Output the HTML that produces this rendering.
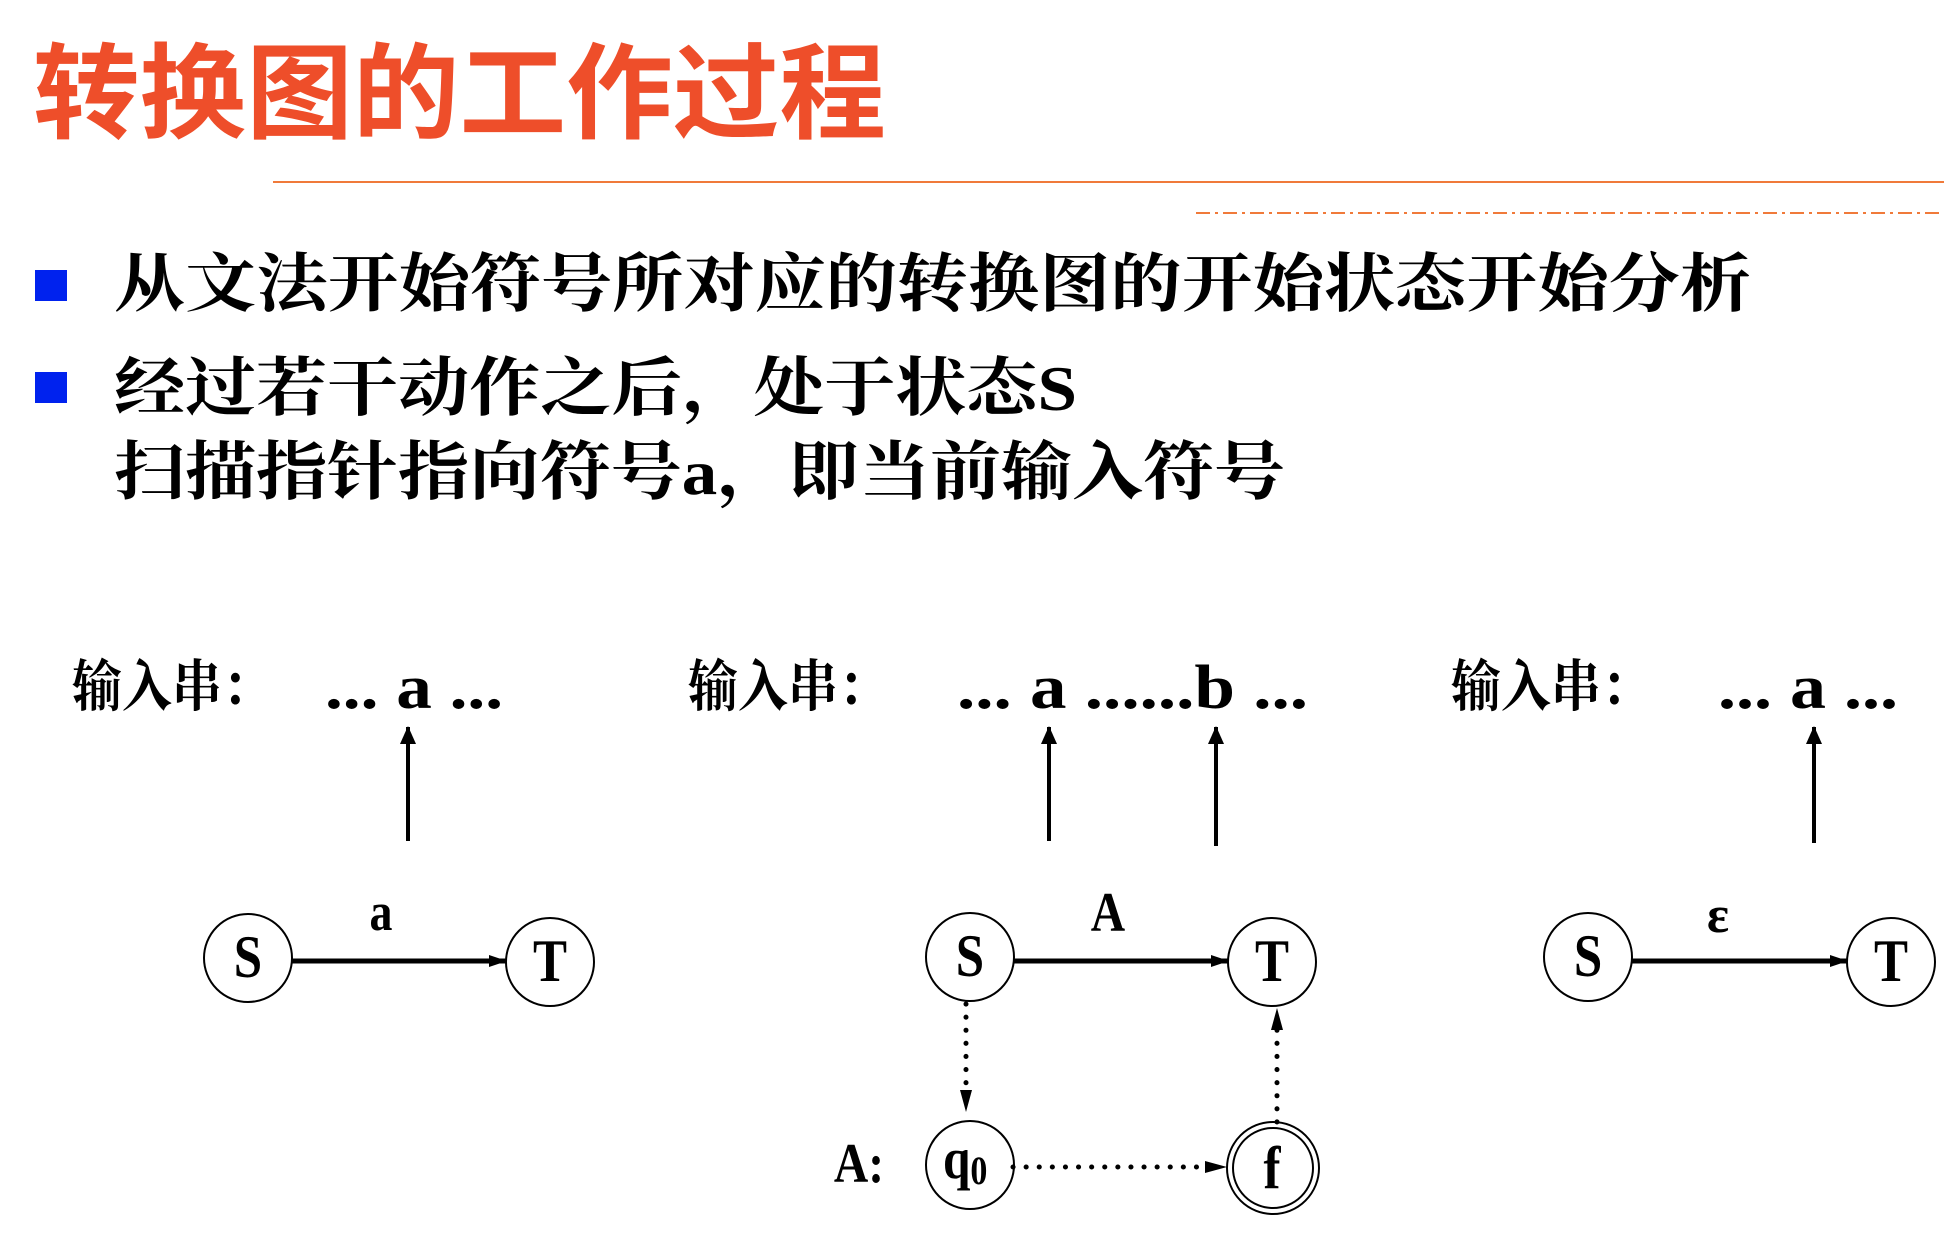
<!DOCTYPE html>
<html><head><meta charset="utf-8"><style>
html,body{margin:0;padding:0;background:#fff;}
svg{display:block}
.cj{font-family:"Liberation Serif","Noto Serif CJK SC",serif;font-weight:bold;}
.lt{font-family:"Liberation Serif",serif;font-weight:bold;}
</style></head><body>
<svg width="1944" height="1258" viewBox="0 0 1944 1258" xmlns="http://www.w3.org/2000/svg">
<defs>
<marker id="ahb" markerWidth="18" markerHeight="16" refX="17" refY="8" orient="auto" markerUnits="userSpaceOnUse" viewBox="0 0 18 16"><path d="M0,0 L18,8 L0,16 z" fill="#000"/></marker>
<marker id="ahs" markerWidth="18" markerHeight="12" refX="17" refY="6" orient="auto" markerUnits="userSpaceOnUse" viewBox="0 0 18 12"><path d="M0,0 L18,6 L0,12 z" fill="#000"/></marker>
</defs>
<text x="33" y="130" font-family="'Noto Sans CJK SC',sans-serif" font-weight="bold" font-size="104" fill="#EE4E2A" textLength="853" lengthAdjust="spacingAndGlyphs">转换图的工作过程</text>
<line x1="273" y1="182" x2="1944" y2="182" stroke="#F07A3A" stroke-width="2"/>
<line x1="1196" y1="213" x2="1944" y2="213" stroke="#F07A3A" stroke-width="2" stroke-dasharray="14,5,3,5"/>
<rect x="35" y="270" width="32" height="31" fill="#0022EE"/>
<rect x="35" y="372" width="32" height="31" fill="#0022EE"/>
<text class="cj" x="114" y="306" font-size="64" textLength="1637" lengthAdjust="spacingAndGlyphs">从文法开始符号所对应的转换图的开始状态开始分析</text>
<text class="cj" x="114" y="410" font-size="64" textLength="963" lengthAdjust="spacingAndGlyphs">经过若干动作之后，处于状态S</text>
<text class="cj" x="114" y="494" font-size="64" textLength="1171" lengthAdjust="spacingAndGlyphs">扫描指针指向符号a，即当前输入符号</text>

<g class="cj" font-size="56">
<text x="72" y="706" textLength="200" lengthAdjust="spacingAndGlyphs">输入串：</text>
<text x="688" y="706" textLength="200" lengthAdjust="spacingAndGlyphs">输入串：</text>
<text x="1451" y="706" textLength="200" lengthAdjust="spacingAndGlyphs">输入串：</text>
</g>
<g class="lt" font-size="62">
<text x="325" y="708" textLength="178" lengthAdjust="spacingAndGlyphs">... a ...</text>
<text x="957" y="708" textLength="351" lengthAdjust="spacingAndGlyphs">... a ......b ...</text>
<text x="1718" y="708" textLength="180" lengthAdjust="spacingAndGlyphs">... a ...</text>
</g>
<g stroke="#000" stroke-width="4">
<line x1="408" y1="841" x2="408" y2="727" marker-end="url(#ahb)"/>
<line x1="1049" y1="841" x2="1049" y2="727" marker-end="url(#ahb)"/>
<line x1="1216" y1="846" x2="1216" y2="727" marker-end="url(#ahb)"/>
<line x1="1814" y1="843" x2="1814" y2="727" marker-end="url(#ahb)"/>
</g>
<g fill="#fff" stroke="#000" stroke-width="2">
<circle cx="248" cy="958" r="44"/><circle cx="550" cy="962" r="44"/>
<circle cx="970" cy="957" r="44"/><circle cx="1272" cy="962" r="44"/>
<circle cx="1588" cy="957" r="44"/><circle cx="1891" cy="962" r="44"/>
<circle cx="970" cy="1165" r="44"/>
<circle cx="1273" cy="1168" r="46"/><circle cx="1273" cy="1168" r="40"/>
</g>
<g stroke="#000" stroke-width="5">
<line x1="292" y1="961" x2="506" y2="961" marker-end="url(#ahs)"/>
<line x1="1014" y1="961" x2="1228" y2="961" marker-end="url(#ahs)"/>
<line x1="1632" y1="961" x2="1847" y2="961" marker-end="url(#ahs)"/>
</g>
<g stroke="#000" stroke-width="5" stroke-linecap="round" stroke-dasharray="0.1,13">
<line x1="966" y1="1004" x2="966" y2="1090"/>
<line x1="1277" y1="1122" x2="1277" y2="1030"/>
<line x1="1013" y1="1167" x2="1206" y2="1167"/>
</g>
<path d="M960,1090 L972,1090 L966,1112 z"/>
<path d="M1271,1030 L1283,1030 L1277,1008 z"/>
<path d="M1205,1161 L1205,1173 L1227,1167 z"/>
<g class="lt" text-anchor="middle">
<text x="248" y="977" font-size="60" transform="translate(248 0) scale(0.85 1) translate(-248 0)">S</text>
<text x="550" y="981" font-size="60" transform="translate(550 0) scale(0.85 1) translate(-550 0)">T</text>
<text x="970" y="976" font-size="60" transform="translate(970 0) scale(0.85 1) translate(-970 0)">S</text>
<text x="1272" y="981" font-size="60" transform="translate(1272 0) scale(0.85 1) translate(-1272 0)">T</text>
<text x="1588" y="976" font-size="60" transform="translate(1588 0) scale(0.85 1) translate(-1588 0)">S</text>
<text x="1891" y="981" font-size="60" transform="translate(1891 0) scale(0.85 1) translate(-1891 0)">T</text>
<text x="381" y="930" font-size="54" transform="translate(381 0) scale(0.85 1) translate(-381 0)">a</text>
<text x="1108" y="931" font-size="56" transform="translate(1108 0) scale(0.85 1) translate(-1108 0)">A</text>
<text x="1718" y="932" font-size="52">ε</text>
<text x="1272" y="1188" font-size="60" transform="translate(1272 0) scale(0.85 1) translate(-1272 0)">f</text>
<text x="859" y="1182" font-size="56" transform="translate(859 0) scale(0.85 1) translate(-859 0)">A:</text>
</g>
<text class="lt" x="943" y="1178" font-size="58" transform="translate(943 0) scale(0.85 1) translate(-943 0)">q<tspan font-size="40" dy="6">0</tspan></text>
</svg>
</body></html>
